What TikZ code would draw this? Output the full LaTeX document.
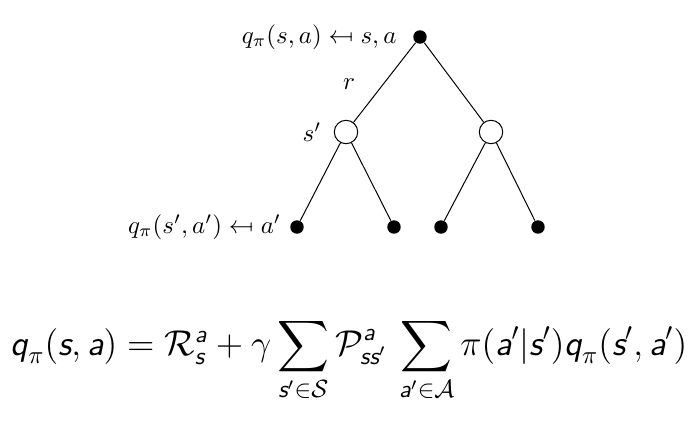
\documentclass[tikz,border=0pt]{standalone}
\usepackage{amsmath,stmaryrd}
\usetikzlibrary{positioning}
\newcommand{\vsf}[1]{\text{\sffamily\slshape #1}}
\begin{document}
\begin{tikzpicture}[x=0.0141cm, y=-0.0141cm,
	act/.style = {circle, fill, inner sep=0pt, minimum size=5.4pt},
	st/.style = {circle, draw, inner sep=0pt, minimum size=9.4pt}]
	\useasboundingbox (0,0) rectangle (689,425);
	% tree
	\node [act] (root) at (420,37) {};
	\node [st] (s1) at (346,132) {};
	\node [st] (s2) at (491,132) {};
	\node [act] (a1) at (297,227) {};
	\node [act] (a2) at (394,227) {};
	\node [act] (a3) at (441,227) {};
	\node [act] (a4) at (538,227) {};
	\draw (root) -- (s1);
	\draw (root) -- (s2);
	\draw (s1) -- (a1);
	\draw (s1) -- (a2);
	\draw (s2) -- (a3);
	\draw (s2) -- (a4);
	\node [left=3pt of root] (qroot) {$q_\pi(s,a) \mapsfrom s,a$};
	\node (rew) at (349,84) {$r$};
	\node [left=1.5pt of s1] (snext) {$s'$};
	\node [left=0pt of a1] (qleaf) {$q_\pi(s',a') \mapsfrom a'$};
	% equation
	\node (bellman) at (349,360) {\fontsize{14}{17}\selectfont $\vsf{q}_\pi(\vsf{s},\vsf{a}) = \mathcal{R}^{\vsf{a}}_{\vsf{s}} + \gamma \displaystyle\sum_{\vsf{s}'\in\mathcal{S}} \mathcal{P}^{\vsf{a}}_{\vsf{ss}'} \, \sum_{\vsf{a}'\in\mathcal{A}} \pi(\vsf{a}'|\vsf{s}') \vsf{q}_\pi(\vsf{s}',\vsf{a}')$};
\end{tikzpicture}
\end{document}
